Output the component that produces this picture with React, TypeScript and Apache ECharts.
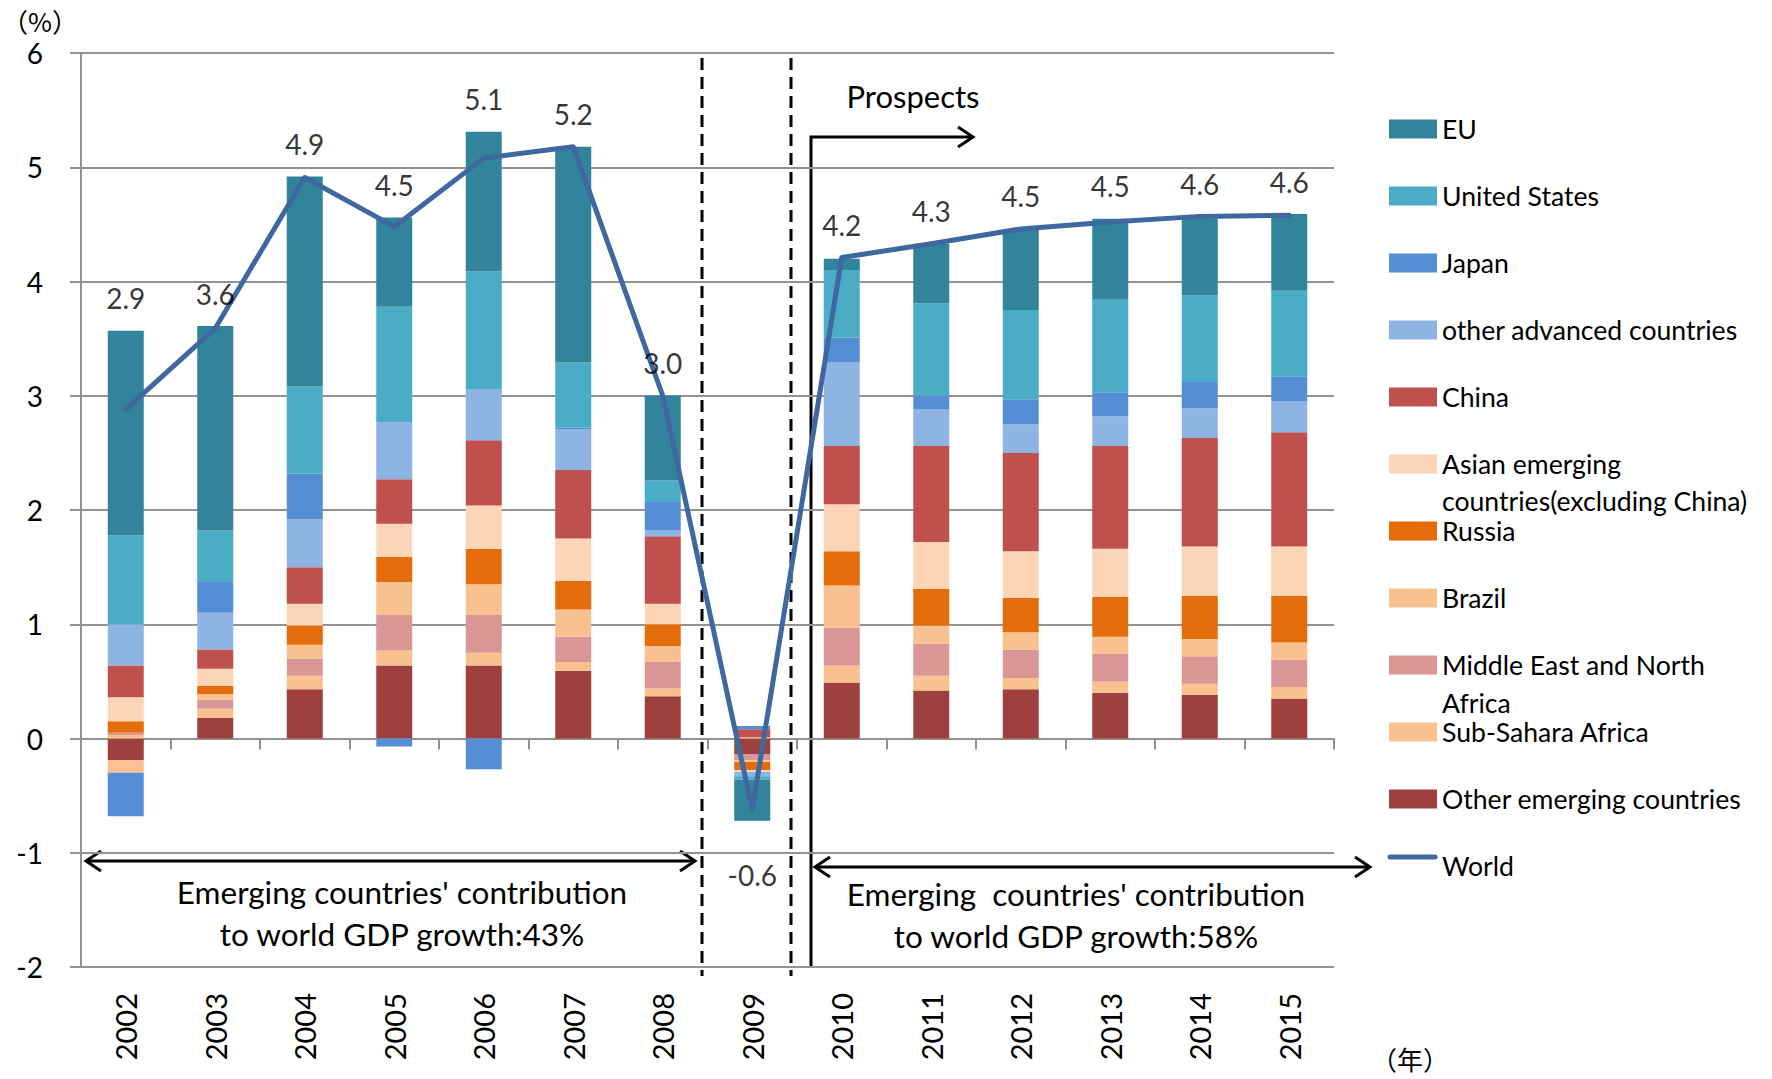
import React, { useEffect, useRef } from "react";
import * as echarts from "echarts";

const years = ["2002", "2003", "2004", "2005", "2006", "2007", "2008", "2009", "2010", "2011", "2012", "2013", "2014", "2015"];

const eu = [1.79, 1.79, 1.84, 0.78, 1.22, 1.89, 0.74, -0.36, 0.10, 0.52, 0.70, 0.71, 0.67, 0.67];
const unitedStates = [0.78, 0.45, 0.76, 1.01, 1.03, 0.57, 0.19, -0.03, 0.59, 0.81, 0.78, 0.81, 0.76, 0.75];
const japan = [-0.38, 0.27, 0.40, -0.07, -0.27, 0.01, 0.25, 0.03, 0.22, 0.12, 0.22, 0.21, 0.23, 0.22];
const otherAdvanced = [0.36, 0.32, 0.42, 0.50, 0.45, 0.36, 0.05, -0.04, 0.73, 0.32, 0.25, 0.26, 0.26, 0.27];
const china = [0.28, 0.17, 0.32, 0.39, 0.57, 0.60, 0.59, 0.07, 0.51, 0.84, 0.86, 0.90, 0.95, 1.00];
const asianEmerging = [0.21, 0.15, 0.19, 0.29, 0.38, 0.37, 0.18, -0.015, 0.41, 0.41, 0.41, 0.42, 0.43, 0.43];
const russia = [0.10, 0.07, 0.17, 0.22, 0.31, 0.25, 0.19, -0.07, 0.30, 0.32, 0.30, 0.35, 0.38, 0.41];
const brazil = [-0.11, 0.05, 0.12, 0.29, 0.27, 0.24, 0.14, -0.015, 0.37, 0.16, 0.15, 0.15, 0.15, 0.15];
const mena = [0.02, 0.08, 0.15, 0.31, 0.33, 0.22, 0.23, -0.05, 0.33, 0.28, 0.25, 0.24, 0.24, 0.24];
const subSahara = [0.03, 0.08, 0.12, 0.13, 0.11, 0.08, 0.07, 0.01, 0.15, 0.13, 0.10, 0.10, 0.10, 0.10];
const otherEmerging = [-0.19, 0.18, 0.43, 0.64, 0.64, 0.59, 0.37, -0.14, 0.49, 0.42, 0.43, 0.40, 0.38, 0.35];
const world = [2.88, 3.59, 4.91, 4.48, 5.08, 5.18, 3.0, -0.62, 4.21, 4.33, 4.46, 4.52, 4.57, 4.58];

const yTicks = [-2, -1, 0, 1, 2, 3, 4, 5, 6];

const FONT = "Lato";
const CJK = "Noto Sans CJK JP";
const GRID_COLOR = "#929292";
const WORLD_COLOR = "#4068A0";

// stacking order bottom -> top
const stackDefs = [
  { name: "Other emerging countries", data: otherEmerging, color: "#9D403E" },
  { name: "Sub-Sahara Africa", data: subSahara, color: "#F9C090" },
  { name: "Middle East and North Africa", data: mena, color: "#D99694" },
  { name: "Brazil", data: brazil, color: "#F9C090" },
  { name: "Russia", data: russia, color: "#E46C0A" },
  { name: "Asian emerging countries(excluding China)", data: asianEmerging, color: "#FBD5B5" },
  { name: "China", data: china, color: "#C0504D" },
  { name: "other advanced countries", data: otherAdvanced, color: "#8EB4E3" },
  { name: "Japan", data: japan, color: "#558ED5" },
  { name: "United States", data: unitedStates, color: "#4BACC6" },
  { name: "EU", data: eu, color: "#31849B" },
];

const legendFirstLine: Record<string, string> = {
  "Asian emerging countries(excluding China)": "Asian emerging",
  "Middle East and North Africa": "Middle East and North",
};

export default function App() {
  const ref = useRef<HTMLDivElement>(null);

  useEffect(() => {
    if (!ref.current) return;
    const chart = echarts.init(ref.current, undefined, { renderer: "svg" });

    const posTop = years.map((_, i) => stackDefs.reduce((s, d) => s + Math.max(d.data[i], 0), 0));
    const negBottom = years.map((_, i) => stackDefs.reduce((s, d) => s + Math.min(d.data[i], 0), 0));
    const labelData = years.map((_, i) => {
      const neg = world[i] < 0;
      return {
        value: neg ? negBottom[i] : Math.max(world[i], posTop[i]),
        label: { position: neg ? "bottom" : "top", distance: neg ? 40 : 18 },
      };
    });

    const barSeries = stackDefs.map((d) => ({
      name: d.name,
      type: "bar",
      stack: "total",
      barWidth: 36,
      xAxisIndex: 0,
      data: d.data,
      itemStyle: { color: d.color },
    }));

    const legendOrder = [...stackDefs].reverse().map((d) => ({ name: d.name, icon: "rect" }));

    const black = "#000";
    const lw = 3;
    const annFont = `31.5px ${FONT}`;

    const graphic: any[] = [
      { type: "text", left: 2, top: 7, style: { text: "（%）", font: `26px "${CJK}"`, fill: black } },
      { type: "text", left: 1371, top: 1045, style: { text: "（年）", font: `26px "${CJK}"`, fill: black } },
      // World legend line icon
      { type: "line", shape: { x1: 1390, y1: 857, x2: 1435, y2: 857 }, style: { stroke: WORLD_COLOR, lineWidth: 5, lineCap: "round" } },
      // second lines of the two-line legend entries
      { type: "text", left: 1442, top: 487, style: { text: "countries(excluding China)", font: `26.6px ${FONT}`, fill: black } },
      { type: "text", left: 1442, top: 689, style: { text: "Africa", font: `26.6px ${FONT}`, fill: black } },
      // dashed separators
      { type: "line", shape: { x1: 702, y1: 58, x2: 702, y2: 976 }, style: { stroke: black, lineWidth: lw, lineDash: [12, 7] } },
      { type: "line", shape: { x1: 791, y1: 58, x2: 791, y2: 976 }, style: { stroke: black, lineWidth: lw, lineDash: [12, 7] } },
      // prospects
      { type: "polyline", shape: { points: [[811, 968], [811, 137], [973, 137]] }, style: { stroke: black, lineWidth: lw, fill: null } },
      { type: "polyline", shape: { points: [[958, 127], [973, 137], [958, 147]] }, style: { stroke: black, lineWidth: lw, fill: null } },
      { type: "text", x: 913, y: 96, style: { text: "Prospects", font: `31px ${FONT}`, fill: black, align: "center", verticalAlign: "middle" } },
      // left double arrow
      { type: "line", shape: { x1: 86, y1: 861, x2: 695, y2: 861 }, style: { stroke: black, lineWidth: lw } },
      { type: "polyline", shape: { points: [[101, 851], [86, 861], [101, 871]] }, style: { stroke: black, lineWidth: lw, fill: null } },
      { type: "polyline", shape: { points: [[680, 851], [695, 861], [680, 871]] }, style: { stroke: black, lineWidth: lw, fill: null } },
      // right double arrow
      { type: "line", shape: { x1: 815, y1: 867, x2: 1370, y2: 867 }, style: { stroke: black, lineWidth: lw } },
      { type: "polyline", shape: { points: [[830, 857], [815, 867], [830, 877]] }, style: { stroke: black, lineWidth: lw, fill: null } },
      { type: "polyline", shape: { points: [[1355, 857], [1370, 867], [1355, 877]] }, style: { stroke: black, lineWidth: lw, fill: null } },
      // annotation texts
      { type: "text", x: 402, y: 892, style: { text: "Emerging countries' contribution", font: annFont, fill: black, align: "center", verticalAlign: "middle" } },
      { type: "text", x: 402, y: 934, style: { text: "to world GDP growth:43%", font: annFont, fill: black, align: "center", verticalAlign: "middle" } },
      { type: "text", x: 1076, y: 894, style: { text: "Emerging  countries' contribution", font: annFont, fill: black, align: "center", verticalAlign: "middle" } },
      { type: "text", x: 1076, y: 936, style: { text: "to world GDP growth:58%", font: annFont, fill: black, align: "center", verticalAlign: "middle" } },
    ];

    const option: any = {
      animation: false,
      backgroundColor: "#fff",
      textStyle: { fontFamily: FONT },
      grid: { left: 81, right: 438, top: 53, bottom: 112, containLabel: false },
      legend: {
        orient: "vertical",
        left: 1389,
        top: 114,
        padding: 0,
        itemWidth: 48,
        itemHeight: 19,
        itemGap: 37,
        selectedMode: false,
        data: [...legendOrder, { name: "World", icon: "none" }],
        formatter: (name: string) => legendFirstLine[name] ?? name,
        textStyle: { fontSize: 26.6, fontFamily: FONT, color: "#000", lineHeight: 30 },
      },
      xAxis: [
        {
          type: "category",
          data: years,
          boundaryGap: true,
          axisLine: { show: true, onZero: true, lineStyle: { color: GRID_COLOR, width: 2 } },
          axisTick: { show: true, length: 11, lineStyle: { color: GRID_COLOR, width: 2 } },
          axisLabel: { show: false },
          splitLine: { show: false },
        },
        {
          type: "category",
          data: years,
          position: "bottom",
          boundaryGap: true,
          axisLine: { show: false, onZero: false },
          axisTick: { show: false },
          axisLabel: { rotate: 90, fontSize: 29, fontFamily: FONT, color: "#000", margin: 26 },
          splitLine: { show: false },
        },
      ],
      yAxis: {
        type: "value",
        min: yTicks[0],
        max: yTicks[yTicks.length - 1],
        interval: 1,
        axisLine: { show: true, lineStyle: { color: GRID_COLOR, width: 2 } },
        axisTick: { show: true, length: 11, lineStyle: { color: GRID_COLOR, width: 2 } },
        axisLabel: { fontSize: 28, fontFamily: FONT, color: "#000", margin: 38 },
        splitLine: { show: true, lineStyle: { color: GRID_COLOR, width: 2 } },
      },
      series: [
        ...barSeries,
        {
          name: "World",
          type: "line",
          xAxisIndex: 0,
          data: world,
          symbol: "none",
          lineStyle: { color: WORLD_COLOR, width: 5, cap: "round", join: "round" },
          itemStyle: { color: WORLD_COLOR },
          z: 5,
        },
        {
          name: "World label",
          type: "scatter",
          xAxisIndex: 0,
          data: labelData,
          symbolSize: 1,
          itemStyle: { color: "rgba(0,0,0,0)" },
          z: 6,
          label: {
            show: true,
            fontSize: 28,
            fontFamily: FONT,
            color: "#000",
            formatter: (p: any) => world[p.dataIndex].toFixed(1),
          },
        },
      ],
      graphic,
    };

    chart.setOption(option);
    return () => chart.dispose();
  }, []);

  return (
    <div
      ref={ref}
      style={{ position: "fixed", left: 0, top: 0, width: 1772, height: 1079, background: "#fff" }}
    />
  );
}
